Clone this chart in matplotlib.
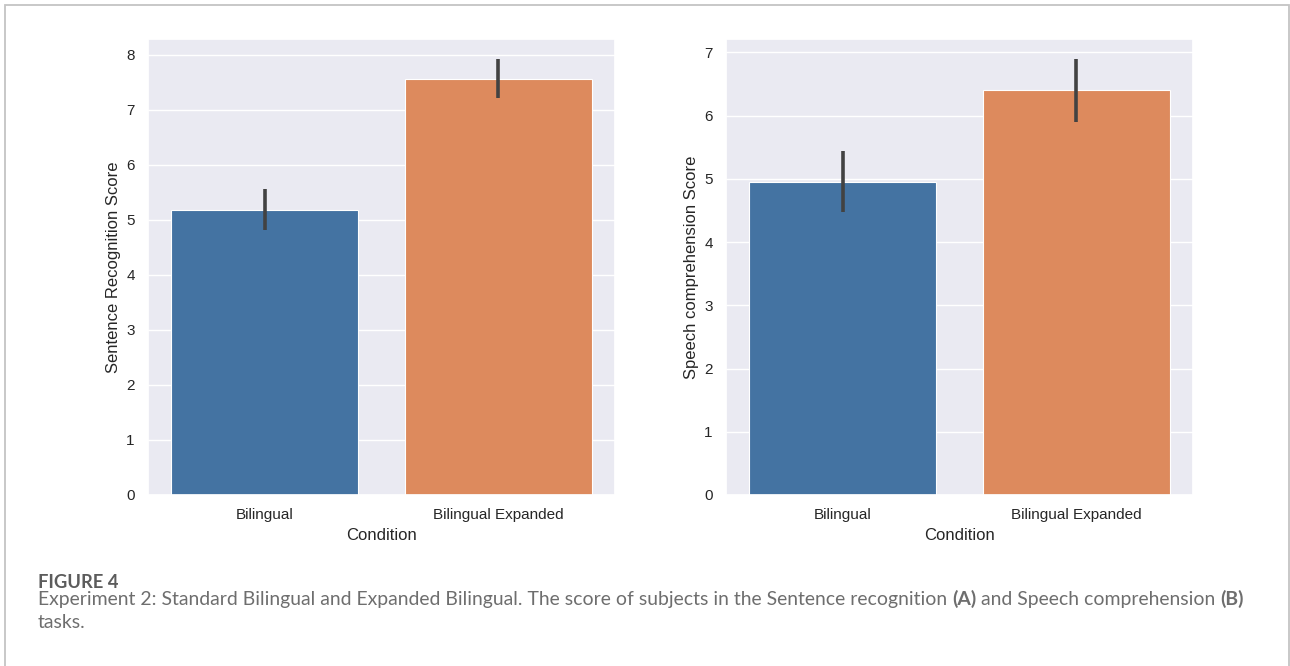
import numpy as np
import matplotlib.pyplot as plt
import matplotlib.patches as mpatches
import seaborn as sns

sns.set_theme(style="darkgrid")
plt.rcParams['font.family'] = ['Liberation Sans', 'DejaVu Sans']

conditions = ["Bilingual", "Bilingual Expanded"]

# sentence recognition: mean score and 95% CI per condition
sent_mean = [5.18, 7.57]
sent_lo = [4.82, 7.21]
sent_hi = [5.56, 7.93]

# speech comprehension
speech_mean = [4.95, 6.40]
speech_lo = [4.47, 5.90]
speech_hi = [5.44, 6.90]

bar_colors = ["#4473a2", "#dd8a5d"]

W, H = 1290, 666
fig = plt.figure(figsize=(W / 100, H / 100), dpi=100)
fig.patch.set_facecolor("white")

# frame round the whole figure (open at the bottom)
frame = mpatches.Rectangle((5 / W, -0.1), 1284 / W, 1.1 - 5 / H,
                           transform=fig.transFigure, fill=False,
                           edgecolor="#c4c4c4", linewidth=1.3, clip_on=False)
fig.patches.append(frame)

ax1 = fig.add_axes([148 / W, 171 / H, 467 / W, 456 / H])
ax2 = fig.add_axes([726 / W, 171 / H, 467 / W, 456 / H])


def draw_bars(ax, mean, lo, hi, ylabel, ytop):
    x = np.arange(len(conditions))
    ax.bar(x, mean, width=0.8, color=bar_colors, edgecolor="white", linewidth=0.8, zorder=2)
    ax.vlines(x, lo, hi, color="#424242", linewidth=2.6, zorder=3)
    ax.set_xticks(x)
    ax.set_xticklabels(conditions)
    ax.set_xlim(-0.5, len(conditions) - 0.5)
    ax.set_ylim(0, ytop)
    ax.grid(False, axis="x")
    ax.set_xlabel("Condition")
    ax.set_ylabel(ylabel)


draw_bars(ax1, sent_mean, sent_lo, sent_hi, "Sentence Recognition Score", 8.29)
draw_bars(ax2, speech_mean, speech_lo, speech_hi, "Speech comprehension Score", 7.21)
ax1.set_yticks(range(0, 9))
ax2.set_yticks(range(0, 8))

# caption below the panels
cap_font = ['Lato', 'DejaVu Sans']
fig.text(38 / W, (H - 588) / H, "FIGURE 4", fontsize=13.2, fontweight="bold",
         color="#5c5c5c", family=cap_font, va="baseline")

line1 = [("Experiment 2: Standard Bilingual and Expanded Bilingual. The score of subjects in the Sentence recognition ", "normal"),
         ("(A)", "bold"),
         (" and Speech comprehension ", "normal"),
         ("(B)", "bold")]
line2 = [("tasks.", "normal")]

renderer = fig.canvas.get_renderer()


def draw_runs(runs, y, size):
    x = 38
    items = []
    for s, wt in runs:
        t = fig.text(x / W, y, s, fontsize=size, fontweight=wt, color="#6e6e6e",
                     family=cap_font, va="baseline")
        bb = t.get_window_extent(renderer=renderer)
        x += bb.width
        items.append(t)
    return items, x - 38


size = 12.5
items, width = draw_runs(line1, (H - 605) / H, size)
for t in items:
    t.remove()
size = size * 1211 / width
draw_runs(line1, (H - 605) / H, size)
draw_runs(line2, (H - 628) / H, size)

fig.savefig("out.png", dpi=100)
